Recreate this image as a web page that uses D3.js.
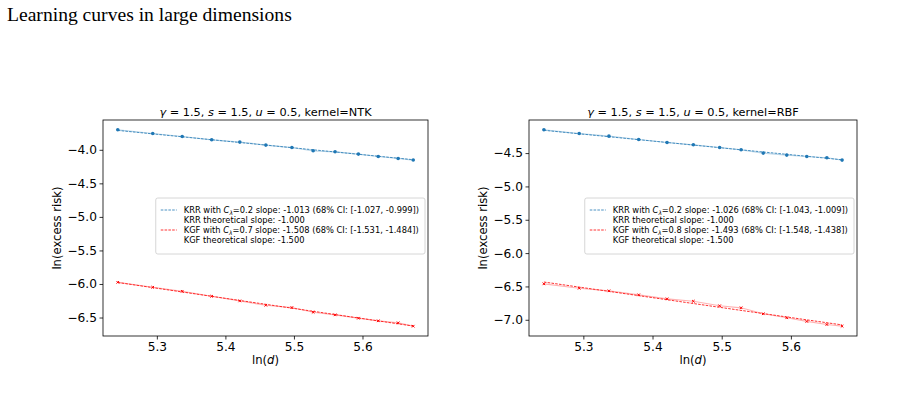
<!DOCTYPE html>
<html>
<head>
<meta charset="utf-8">
<script src="https://cdn.jsdelivr.net/npm/d3@7"></script>
<style>
  body { margin: 0; background: #fff; }
  svg { display: block; }
  .axis text { font-family: 'DejaVu Sans', sans-serif; font-size: 12.2px; fill: #000; }
  .axis path, .axis line { stroke: #000; stroke-width: 0.8; }
  .lbl { font-family: 'DejaVu Sans', sans-serif; font-size: 11.6px; fill: #000; }
  .leg { font-family: 'DejaVu Sans', sans-serif; font-size: 8.3px; fill: #000; }
</style>
</head>
<body>
<svg width="923" height="394"></svg>
<script>
// ln(d) values shared by both panels
let lnD = [5.243, 5.294, 5.337, 5.380, 5.421, 5.459, 5.497, 5.528, 5.560, 5.594, 5.623, 5.652, 5.674];

// NTK panel
let ntkKRR = [-3.702, -3.757, -3.802, -3.851, -3.885, -3.930, -3.966, -4.015, -4.030, -4.064, -4.100, -4.129, -4.153];
let ntkKGF = [-5.975, -6.049, -6.109, -6.183, -6.252, -6.317, -6.351, -6.421, -6.460, -6.510, -6.549, -6.579, -6.629];
// RBF panel
let rbfKRR = [-4.151, -4.207, -4.246, -4.296, -4.341, -4.376, -4.416, -4.451, -4.500, -4.530, -4.551, -4.570, -4.605];
let rbfKGF = [-6.461, -6.527, -6.566, -6.626, -6.686, -6.722, -6.790, -6.820, -6.910, -6.970, -7.025, -7.071, -7.096];

let xTicks = [5.3, 5.4, 5.5, 5.6];
let ntkYTicks = [-4.0, -4.5, -5.0, -5.5, -6.0, -6.5];
let rbfYTicks = [-4.5, -5.0, -5.5, -6.0, -6.5, -7.0];

let panels = [
  { kernel: 'NTK', krr: ntkKRR, kgf: ntkKGF, yTicks: ntkYTicks,
    slopes: [-1.013, -1.508], cl: ['0.2', '0.7'],
    ci: [['-1.027', '-0.999'], ['-1.531', '-1.484']], left: 103, right: 428 },
  { kernel: 'RBF', krr: rbfKRR, kgf: rbfKGF, yTicks: rbfYTicks,
    slopes: [-1.026, -1.493], cl: ['0.2', '0.8'],
    ci: [['-1.043', '-1.009'], ['-1.548', '-1.438']], left: 529, right: 857 }
];

let svg = d3.select('svg');
let top_ = 120, bottom = 336;
let blue = '#1f77b4', red = '#ff0000';
let fmt = d3.format('.1f');
let minus = s => s.replace('-', '\u2212');

// page heading
svg.append('text')
  .attr('x', 7).attr('y', 21)
  .style('font-family', "'Liberation Serif', serif")
  .style('font-size', '19.6px')
  .text('Learning curves in large dimensions');

// mpl style 5% margins
function padded(vals) {
  let [a, b] = d3.extent(vals);
  let m = (b - a) * 0.05;
  return [a - m, b + m];
}

function fitLine(ys, slope) {
  let mx = d3.mean(lnD), my = d3.mean(ys);
  let b = my - slope * mx;
  let x0 = lnD[0], x1 = lnD[lnD.length - 1];
  return [[x0, b + slope * x0], [x1, b + slope * x1]];
}

panels.forEach(p => {
  let x = d3.scaleLinear().domain(padded(lnD)).range([p.left, p.right]);
  let y = d3.scaleLinear().domain(padded(p.krr.concat(p.kgf))).range([bottom, top_]);
  let g = svg.append('g');

  // axes
  g.append('g').attr('class', 'axis')
    .attr('transform', `translate(0,${bottom})`)
    .call(d3.axisBottom(x).tickValues(xTicks).tickFormat(fmt).tickSize(3.5).tickPadding(2.5))
    .call(a => a.select('.domain').remove());
  g.append('g').attr('class', 'axis')
    .attr('transform', `translate(${p.left},0)`)
    .call(d3.axisLeft(y).tickValues(p.yTicks).tickFormat(d => minus(fmt(d))).tickSize(3.5).tickPadding(2.5))
    .call(a => a.select('.domain').remove());

  // frame
  g.append('rect')
    .attr('x', p.left).attr('y', top_)
    .attr('width', p.right - p.left).attr('height', bottom - top_)
    .attr('fill', 'none').attr('stroke', '#000').attr('stroke-width', 0.8);

  // series
  let series = [
    { ys: p.krr, color: blue, slope: p.slopes[0] },
    { ys: p.kgf, color: red, slope: p.slopes[1] }
  ];
  let line = d3.line().x(d => x(d[0])).y(d => y(d[1]));
  series.forEach((s, k) => {
    let pts = lnD.map((v, i) => [v, s.ys[i]]);
    g.append('path').datum(pts).attr('d', line)
      .attr('fill', 'none').attr('stroke', s.color).attr('stroke-opacity', 0.3).attr('stroke-width', 1.2);
    g.append('path').datum(fitLine(s.ys, s.slope)).attr('d', line)
      .attr('fill', 'none').attr('stroke', s.color).attr('stroke-width', 0.8)
      .attr('stroke-dasharray', '2.6,1.2');
    if (k === 0) {
      g.selectAll(null).data(pts).enter().append('circle')
        .attr('cx', d => x(d[0])).attr('cy', d => y(d[1])).attr('r', 1.8)
        .attr('fill', s.color);
    } else {
      g.selectAll(null).data(pts).enter().append('path')
        .attr('d', d => {
          let cx = x(d[0]), cy = y(d[1]), h = 1.3;
          return `M${cx - h},${cy - h}L${cx + h},${cy + h}M${cx - h},${cy + h}L${cx + h},${cy - h}`;
        })
        .attr('stroke', s.color).attr('stroke-width', 1).attr('fill', 'none');
    }
  });

  // title
  let cx = (p.left + p.right) / 2;
  let t = g.append('text').attr('class', 'lbl').attr('x', cx).attr('y', 116)
    .attr('text-anchor', 'middle').style('font-size', '11.3px');
  [['\u03b3', true], [' = 1.5, ', false], ['s', true], [' = 1.5, ', false], ['u', true],
   [' = 0.5, ', false], ['kernel=' + p.kernel, false]].forEach(([s, it]) => {
    t.append('tspan').text(s).style('font-style', it ? 'italic' : 'normal');
  });

  // axis labels
  let xl = g.append('text').attr('class', 'lbl').attr('x', cx).attr('y', 364).attr('text-anchor', 'middle');
  xl.append('tspan').text('ln(');
  xl.append('tspan').text('d').style('font-style', 'italic');
  xl.append('tspan').text(')');
  g.append('text').attr('class', 'lbl')
    .attr('transform', `translate(${p.left - 42},${(top_ + bottom) / 2}) rotate(-90)`)
    .attr('text-anchor', 'middle').text('ln(excess risk)');

  // legend
  let lg = g.append('g');
  let box = lg.append('rect').attr('fill', '#fff').attr('fill-opacity', 0.8)
    .attr('stroke', '#ccc').attr('stroke-width', 0.8).attr('rx', 2);
  let rows = [
    { name: 'KRR', c: p.cl[0], s: p.slopes[0], ci: p.ci[0], color: blue },
    { name: 'KRR', theo: '-1.000' },
    { name: 'KGF', c: p.cl[1], s: p.slopes[1], ci: p.ci[1], color: red },
    { name: 'KGF', theo: '-1.500' }
  ];
  let textX = 28, rowY = [12, 22, 32, 42];
  rows.forEach((r, i) => {
    let tx = lg.append('text').attr('class', 'leg').attr('x', textX).attr('y', rowY[i] + 2.9);
    if (r.theo) {
      tx.text(`${r.name} theoretical slope: ${r.theo}`);
    } else {
      lg.append('line').attr('x1', 5).attr('x2', 21).attr('y1', rowY[i]).attr('y2', rowY[i])
        .attr('stroke', r.color).attr('stroke-width', 0.8).attr('stroke-dasharray', '2.6,1.2');
      tx.append('tspan').text(`${r.name} with `);
      tx.append('tspan').text('C').style('font-style', 'italic');
      tx.append('tspan').text('\u03bb').style('font-style', 'italic').style('font-size', '5.8px').attr('dy', 1.6);
      tx.append('tspan').text(`=${r.c} slope: ${r.s.toFixed(3)} (68% CI: [${r.ci[0]}, ${r.ci[1]}])`).attr('dy', -1.6);
    }
  });
  let w = d3.max(lg.selectAll('text').nodes(), n => n.getComputedTextLength()) + textX + 6;
  let h = 56;
  box.attr('width', w).attr('height', h);
  lg.attr('transform', `translate(${p.right - 3 - w},${(top_ + bottom) / 2 - h / 2 - 2})`);
});
</script>
</body>
</html>
